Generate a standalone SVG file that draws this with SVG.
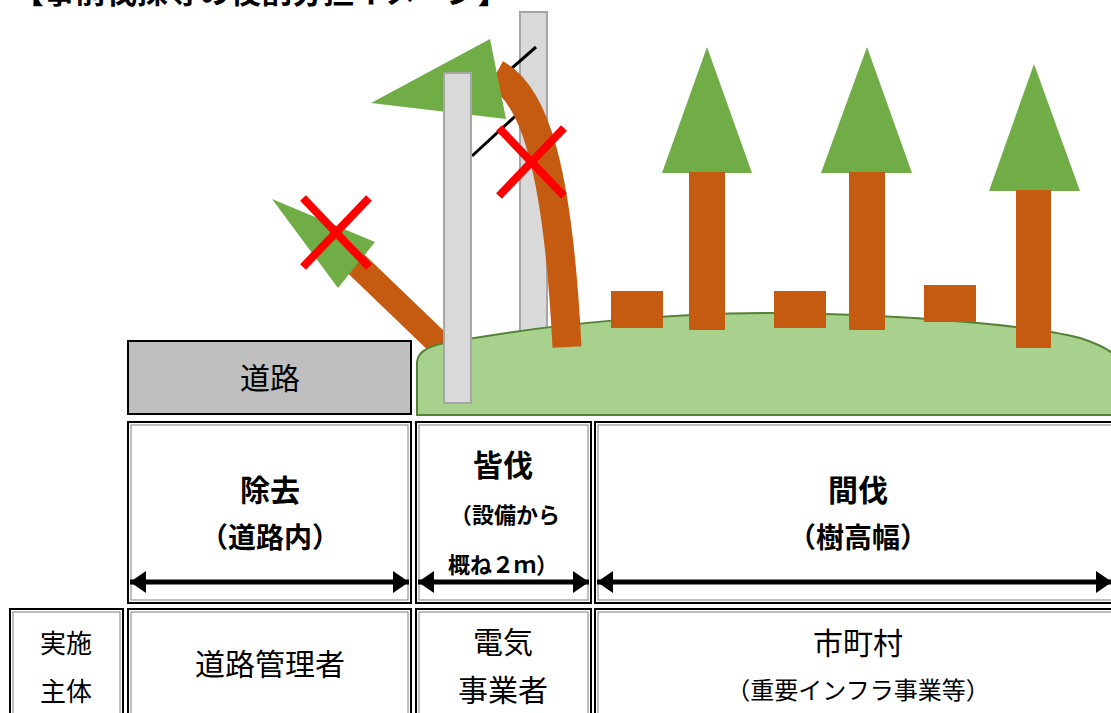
<svg xmlns="http://www.w3.org/2000/svg" width="1111" height="713" viewBox="0 0 1111 713">
  <defs>
    <style>
      .jp { font-family: "Noto Sans CJK JP", "Noto Sans CJK SC", sans-serif; fill: #000; text-anchor: middle; }
      .b { font-weight: bold; }
      .leaf { fill: #70ad47; }
      .wood { fill: #c55a11; }
      .pole { fill: #d9d9d9; stroke: #a6a6a6; stroke-width: 2; }
      .cross { stroke: #ff0000; stroke-width: 8; stroke-linecap: butt; fill: none; }
      .cell { fill: #ffffff; stroke: #000000; stroke-width: 2; }
      .cell-in { fill: none; stroke: #7f7f7f; stroke-width: 1; }
      .span { stroke: #000000; stroke-width: 5; fill: none; marker-start: url(#headL); marker-end: url(#headR); }
    </style>
    <marker id="headR" markerUnits="userSpaceOnUse" markerWidth="18" markerHeight="22" refX="16" refY="11" orient="auto">
      <path d="M0,0 L16,11 L0,22 Z" fill="#000"/>
    </marker>
    <marker id="headL" markerUnits="userSpaceOnUse" markerWidth="18" markerHeight="22" refX="0" refY="11" orient="auto">
      <path d="M16,0 L0,11 L16,22 Z" fill="#000"/>
    </marker>
  </defs>

  <rect width="1111" height="713" fill="#ffffff"/>

  <!-- heading (runs off the top edge) -->
  <text class="jp b" x="13" y="3" font-size="31" style="text-anchor:start">【事前伐採等の役割分担イメージ】</text>

  <!-- scene -->
  <g id="scene">
    <!-- rear utility pole -->
    <rect id="pole-rear" class="pole" x="520" y="12" width="27" height="329"/>
    <!-- overhead line -->
    <g id="wire" stroke="#000" stroke-width="3">
      <line x1="472" y1="156" x2="522" y2="110"/>
      <line x1="504" y1="75" x2="536" y2="47"/>
    </g>
    <!-- tree fallen toward the road -->
    <line id="fallen-trunk" x1="350" y1="258" x2="452" y2="356" stroke="#c55a11" stroke-width="25"/>
    <!-- ground -->
    <path id="ground" d="M417,415 V362 Q418,348 445,343 C560,322 680,313 770,313 C900,314 1030,325 1080,338 Q1105,346 1116,356 V415 Z" fill="#a9d18e" stroke="#548235" stroke-width="2"/>
    <!-- tree bent over the line -->
    <path id="bent-trunk" d="M496,74 C535,95 558,170 567,347" fill="none" stroke="#c55a11" stroke-width="29"/>
    <polygon id="bent-crown" class="leaf" points="371,103 490,39 506,119"/>
    <!-- front utility pole -->
    <rect id="pole-front" class="pole" x="444" y="73" width="27" height="330"/>
    <polygon id="fallen-crown" class="leaf" points="272,199 375,242 338,288"/>
    <!-- standing trees and stumps -->
    <g id="tree-1">
      <polygon class="leaf" points="707,47 752,173 662,173"/>
      <rect class="wood" x="689" y="172" width="36" height="158"/>
    </g>
    <g id="tree-2">
      <polygon class="leaf" points="867,47 912,173 821,173"/>
      <rect class="wood" x="849" y="172" width="36" height="158"/>
    </g>
    <g id="tree-3">
      <polygon class="leaf" points="1034,64 1080,191 989,191"/>
      <rect class="wood" x="1016" y="190" width="35" height="158"/>
    </g>
    <rect id="stump-1" class="wood" x="611" y="291" width="52" height="37"/>
    <rect id="stump-2" class="wood" x="774" y="291" width="52" height="37"/>
    <rect id="stump-3" class="wood" x="924" y="285" width="52" height="37"/>
    <!-- removal marks -->
    <g id="mark-1" class="cross">
      <line x1="303" y1="198" x2="369" y2="267"/>
      <line x1="369" y1="198" x2="303" y2="267"/>
    </g>
    <g id="mark-2" class="cross">
      <line x1="499" y1="128" x2="564" y2="196"/>
      <line x1="564" y1="128" x2="499" y2="196"/>
    </g>
  </g>

  <!-- road -->
  <g id="road">
    <rect x="128" y="341" width="283" height="73" fill="#bfbfbf" stroke="#000" stroke-width="2"/>
    <text class="jp" x="270" y="389" font-size="30">道路</text>
  </g>

  <!-- work zones -->
  <g id="zone-removal">
    <rect class="cell" x="128" y="422" width="283" height="181"/>
    <rect class="cell-in" x="131" y="425" width="277" height="175"/>
    <text class="jp b" x="270" y="501" font-size="30">除去</text>
    <text class="jp b" x="270" y="548" font-size="28">（道路内）</text>
  </g>
  <g id="zone-clearcut">
    <rect class="cell" x="416" y="422" width="175" height="181"/>
    <rect class="cell-in" x="419" y="425" width="169" height="175"/>
    <text class="jp b" x="503" y="476" font-size="30">皆伐</text>
    <text class="jp b" x="505" y="523" font-size="22">（設備から</text>
    <text class="jp b" x="503" y="573" font-size="22">概ね２ｍ）</text>
  </g>
  <g id="zone-thinning">
    <rect class="cell" x="595" y="422" width="530" height="181"/>
    <rect class="cell-in" x="598" y="425" width="524" height="175"/>
    <text class="jp b" x="858" y="501" font-size="30">間伐</text>
    <text class="jp b" x="858" y="548" font-size="28">（樹高幅）</text>
  </g>

  <!-- extent arrows -->
  <g id="spans">
    <line class="span" x1="130" y1="582" x2="409" y2="582"/>
    <line class="span" x1="418" y1="582" x2="589" y2="582"/>
    <line class="span" x1="597" y1="582" x2="1112" y2="582"/>
  </g>

  <!-- responsible bodies -->
  <g id="row-head">
    <rect class="cell" x="10" y="609" width="113" height="115"/>
    <rect class="cell-in" x="13" y="612" width="107" height="115"/>
    <text class="jp" x="66" y="653" font-size="26">実施</text>
    <text class="jp" x="66" y="701" font-size="26">主体</text>
  </g>
  <g id="body-road">
    <rect class="cell" x="128" y="609" width="283" height="115"/>
    <rect class="cell-in" x="131" y="612" width="277" height="115"/>
    <text class="jp" x="270" y="675" font-size="30">道路管理者</text>
  </g>
  <g id="body-power">
    <rect class="cell" x="416" y="609" width="175" height="115"/>
    <rect class="cell-in" x="419" y="612" width="169" height="115"/>
    <text class="jp" x="503" y="653" font-size="30">電気</text>
    <text class="jp" x="503" y="701" font-size="30">事業者</text>
  </g>
  <g id="body-municipal">
    <rect class="cell" x="595" y="609" width="530" height="115"/>
    <rect class="cell-in" x="598" y="612" width="524" height="115"/>
    <text class="jp" x="858" y="654" font-size="30">市町村</text>
    <text class="jp" x="858" y="699" font-size="24">（重要インフラ事業等）</text>
  </g>
</svg>
